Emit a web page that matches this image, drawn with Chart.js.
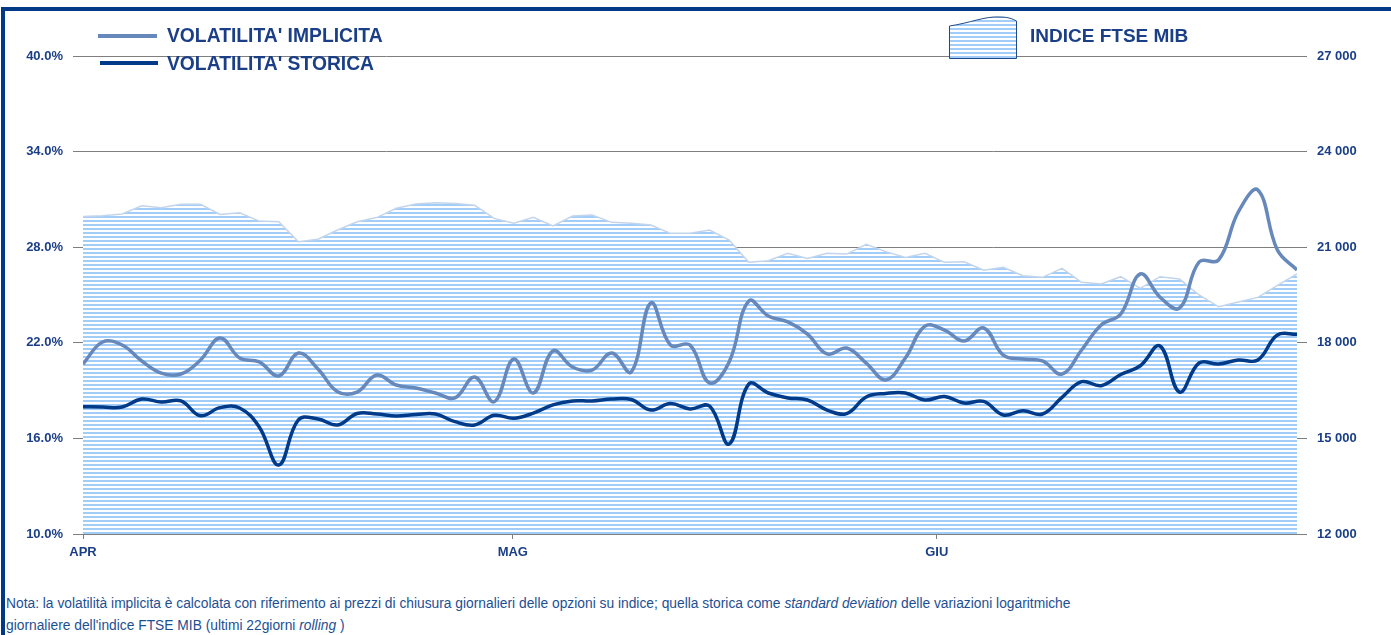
<!DOCTYPE html>
<html>
<head>
<meta charset="utf-8">
<script src="https://cdn.jsdelivr.net/npm/chart.js@4/dist/chart.umd.min.js"></script>
<style>
  html, body { margin: 0; padding: 0; background: #fff; }
  body { width: 1391px; height: 635px; position: relative; overflow: hidden; font-family: "Liberation Sans", Arial, sans-serif; }
  #frameTop { position: absolute; left: 1px; top: 7px; width: 1390px; height: 4px; background: #003a87; }
  #frameLeft { position: absolute; left: 1px; top: 7px; width: 4px; height: 628px; background: #003a87; }
  #chart { position: absolute; left: 0; top: 0; }
  #note { position: absolute; left: 6px; top: 593px; font-size: 13.8px; line-height: 22px; color: #1d4f93; white-space: nowrap; }
</style>
</head>
<body>
<div id="frameTop"></div>
<div id="frameLeft"></div>
<canvas id="chart" width="1391" height="580"></canvas>
<div id="note">Nota: la volatilità implicita è calcolata con riferimento ai prezzi di chiusura giornalieri delle opzioni su indice; quella storica come <i>standard deviation</i> delle variazioni logaritmiche<br>giornaliere dell'indice FTSE MIB (ultimi 22giorni <i>rolling</i> )</div>
<script>
// month labels on the time axis (position in trading days from the start)
const monthLabels = ["APR", "MAG", "GIU"];
const monthPos = [0, 21.95, 43.6];

// FTSE MIB index level (right axis)
const ftseMib = [
  21960, 21990, 22040, 22300, 22240, 22350, 22345, 22030, 22080, 21820,
  21800, 21170, 21250, 21540, 21800, 21930, 22220, 22355, 22395, 22375,
  22315, 21905, 21750, 21935, 21665, 21980, 22010, 21780, 21750, 21695,
  21435, 21435, 21540, 21225, 20525, 20575, 20810, 20650, 20810, 20785,
  21090, 20860, 20680, 20810, 20525, 20545, 20275, 20370, 20105, 20055,
  20335, 19900, 19845, 20075, 19710, 20075, 20000, 19500, 19130, 19280,
  19425, 19800, 20160
];

// implied volatility, %
const volImplicita = [
  20.67, 22.05, 21.86, 20.86, 20.10, 20.04, 20.92, 22.30, 21.05, 20.80,
  19.92, 21.36, 20.36, 18.93, 18.91, 19.98, 19.35, 19.16, 18.85, 18.54,
  19.85, 18.30, 20.98, 18.85, 21.49, 20.48, 20.29, 21.36, 20.17, 24.50,
  21.86, 21.86, 19.48, 20.80, 24.62, 23.68, 23.31, 22.55, 21.30, 21.67,
  20.73, 19.67, 21.05, 23.05, 22.80, 22.11, 22.93, 21.23, 20.98, 20.86,
  20.04, 21.55, 23.12, 23.81, 26.32, 24.87, 24.18, 27.07, 27.20, 30.21,
  31.59, 27.82, 26.57
];

// historical volatility, %
const volStorica = [
  17.99, 17.97, 17.97, 18.47, 18.28, 18.35, 17.42, 17.93, 17.91, 16.72,
  14.33, 17.16, 17.22, 16.84, 17.56, 17.53, 17.41, 17.50, 17.53, 17.05,
  16.84, 17.45, 17.26, 17.59, 18.10, 18.35, 18.35, 18.47, 18.44, 17.78,
  18.19, 17.85, 18.03, 15.65, 19.41, 18.85, 18.54, 18.41, 17.78, 17.56,
  18.60, 18.82, 18.85, 18.41, 18.63, 18.22, 18.32, 17.47, 17.74, 17.53,
  18.58, 19.56, 19.31, 20.01, 20.56, 21.80, 18.91, 20.73, 20.67, 20.92,
  20.92, 22.49, 22.53
];

const TEXT = "#1b3f87";
const GRID = "#7f7f7f";
const IMPL = "#6688bb";
const STOR = "#003a88";
const tickFont = { family: '"Liberation Sans", Arial, sans-serif', size: 13, weight: "bold" };

// horizontal stripes used for the index area
function makeStripes() {
  const p = document.createElement("canvas");
  p.width = 4; p.height = 4;
  const c = p.getContext("2d");
  c.fillStyle = "#ffffff"; c.fillRect(0, 0, 4, 4);
  c.fillStyle = "#a2cdf8"; c.fillRect(0, 0, 4, 2);
  return document.getElementById("chart").getContext("2d").createPattern(p, "repeat");
}
const stripes = makeStripes();

const toPoints = arr => arr.map((v, i) => ({ x: i, y: v }));

const legendPlugin = {
  id: "customLegend",
  afterDraw(chart) {
    const c = chart.ctx;
    c.save();
    c.lineCap = "butt";
    c.lineWidth = 4;
    c.strokeStyle = IMPL;
    c.beginPath(); c.moveTo(98, 36); c.lineTo(157, 36); c.stroke();
    c.strokeStyle = STOR;
    c.beginPath(); c.moveTo(100, 63); c.lineTo(158, 63); c.stroke();

    c.font = 'bold 19.3px "Liberation Sans", Arial, sans-serif';
    c.fillStyle = TEXT;
    c.textBaseline = "middle";
    c.fillText("VOLATILITA' IMPLICITA", 167, 37);
    c.fillText("VOLATILITA' STORICA", 167, 64.5);

    // index icon: striped box with a wavy top
    c.beginPath();
    c.moveTo(949.5, 58.5);
    c.lineTo(949.5, 26);
    c.bezierCurveTo(970, 23, 985, 16, 1000, 17);
    c.bezierCurveTo(1008, 17, 1013, 19, 1016.5, 21);
    c.lineTo(1016.5, 58.5);
    c.closePath();
    c.fillStyle = stripes;
    c.fill();
    c.lineWidth = 1;
    c.strokeStyle = "#1f4a8a";
    c.stroke();

    c.fillStyle = TEXT;
    c.font = 'bold 19px "Liberation Sans", Arial, sans-serif';
    c.fillText("INDICE FTSE MIB", 1030, 37);
    c.restore();
  }
};

new Chart(document.getElementById("chart"), {
  type: "line",
  data: {
    datasets: [
      {
        label: "VOLATILITA' STORICA",
        data: toPoints(volStorica),
        yAxisID: "y",
        borderColor: STOR,
        borderWidth: 3.5,
        pointRadius: 0,
        tension: 0.4,
        fill: false,
        order: 0
      },
      {
        label: "VOLATILITA' IMPLICITA",
        data: toPoints(volImplicita),
        yAxisID: "y",
        borderColor: IMPL,
        borderWidth: 3.5,
        pointRadius: 0,
        tension: 0.4,
        fill: false,
        order: 1
      },
      {
        label: "INDICE FTSE MIB",
        data: toPoints(ftseMib),
        yAxisID: "y2",
        borderColor: "#c2d5ec",
        borderWidth: 1.5,
        backgroundColor: stripes,
        pointRadius: 0,
        tension: 0,
        fill: "start",
        order: 2
      }
    ]
  },
  options: {
    responsive: false,
    animation: false,
    layout: { padding: { top: 56, left: 0, right: 0, bottom: 0 } },
    plugins: { legend: { display: false }, tooltip: { enabled: false } },
    scales: {
      x: {
        type: "linear",
        min: 0,
        max: 62,
        afterBuildTicks: s => { s.ticks = monthPos.map(v => ({ value: v })); },
        afterFit: s => { s.height = 46; },
        ticks: {
          callback: (v, i) => monthLabels[i],
          font: tickFont, color: TEXT, padding: 6, maxRotation: 0, autoSkip: false
        },
        grid: { drawOnChartArea: false, drawTicks: true, tickLength: 5, color: GRID },
        border: { display: true, color: GRID }
      },
      y: {
        position: "left",
        min: 10,
        max: 40,
        afterFit: s => { s.width = 83; },
        ticks: { stepSize: 6, callback: v => v.toFixed(1) + "%", font: tickFont, color: TEXT, padding: 10 },
        grid: { color: GRID, tickLength: 10 },
        border: { display: false }
      },
      y2: {
        position: "right",
        min: 12000,
        max: 27000,
        afterFit: s => { s.width = 94; },
        ticks: {
          stepSize: 3000,
          callback: v => String(v).replace(/\B(?=(\d{3})+(?!\d))/g, " "),
          font: tickFont, color: TEXT, padding: 10
        },
        grid: { drawOnChartArea: false, tickLength: 10, color: GRID },
        border: { display: false }
      }
    }
  },
  plugins: [legendPlugin]
});
</script>
</body>
</html>
